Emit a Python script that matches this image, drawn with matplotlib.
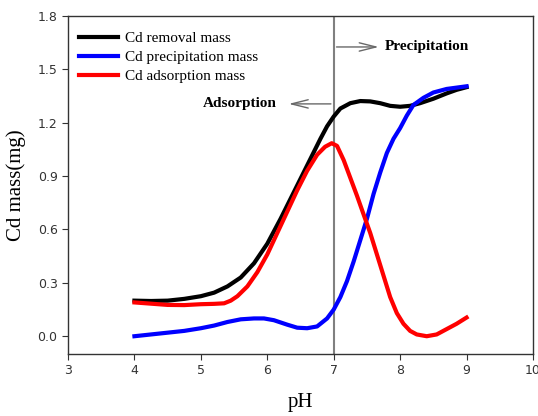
import matplotlib
matplotlib.use("Agg")
import matplotlib.pyplot as plt

# pH values and Cd masses (mg)
ph_removal = [4.0, 4.25, 4.5, 4.75, 5.0, 5.2, 5.4, 5.6, 5.8, 6.0, 6.2, 6.4, 6.6, 6.8, 6.9, 7.0,
              7.1, 7.25, 7.4, 7.55, 7.7, 7.85, 8.0, 8.15, 8.3, 8.5, 8.7, 8.85, 9.0]
removal = [0.20, 0.198, 0.20, 0.21, 0.225, 0.245, 0.28, 0.33, 0.41, 0.52, 0.66, 0.81, 0.96, 1.11, 1.18, 1.235,
           1.28, 1.31, 1.322, 1.32, 1.31, 1.295, 1.29, 1.295, 1.31, 1.335, 1.365, 1.385, 1.40]

ph_precip = [4.0, 4.25, 4.5, 4.75, 5.0, 5.2, 5.4, 5.6, 5.8, 5.95, 6.1, 6.3, 6.45, 6.6, 6.75, 6.9, 7.0,
             7.1, 7.2, 7.3, 7.4, 7.5, 7.6, 7.7, 7.8, 7.9, 8.0, 8.1, 8.2, 8.35, 8.5, 8.7, 9.0]
precip = [0.0, 0.01, 0.02, 0.03, 0.045, 0.06, 0.08, 0.095, 0.10, 0.10, 0.09, 0.065, 0.048, 0.045, 0.055, 0.10, 0.15,
          0.22, 0.31, 0.42, 0.54, 0.66, 0.80, 0.92, 1.03, 1.11, 1.17, 1.24, 1.30, 1.34, 1.37, 1.39, 1.405]

ph_adsorb = [4.0, 4.25, 4.5, 4.75, 5.0, 5.2, 5.35, 5.45, 5.55, 5.7, 5.85, 6.0, 6.15, 6.3, 6.45, 6.6, 6.75,
             6.87, 6.97, 7.05, 7.15, 7.25, 7.35, 7.44, 7.55, 7.65, 7.75, 7.85, 7.95, 8.05, 8.15, 8.25,
             8.4, 8.55, 8.7, 8.85, 9.0]
adsorb = [0.19, 0.183, 0.176, 0.175, 0.18, 0.182, 0.185, 0.20, 0.225, 0.28, 0.36, 0.46, 0.58, 0.70, 0.82, 0.93, 1.02,
          1.065, 1.085, 1.07, 0.99, 0.89, 0.79, 0.695, 0.58, 0.46, 0.34, 0.22, 0.13, 0.07, 0.03, 0.01,
          0.0, 0.01, 0.04, 0.07, 0.105]

xticks = [3, 4, 5, 6, 7, 8, 9, 10]
yticks = [0.0, 0.3, 0.6, 0.9, 1.2, 1.5, 1.8]

fig = plt.figure(figsize=(5.38, 4.16), dpi=100)
ax = fig.add_axes([0.1264, 0.149, 0.8643, 0.8125])

ax.plot(ph_removal, removal, color="black", lw=3, label="Cd removal mass")
ax.plot(ph_precip, precip, color="blue", lw=3, label="Cd precipitation mass")
ax.plot(ph_adsorb, adsorb, color="red", lw=3, label="Cd adsorption mass")

ax.axvline(7, color="gray", lw=1.5, zorder=0)

arrow = dict(arrowstyle="->,head_length=1.2,head_width=0.3", color="dimgray", lw=1)
ax.annotate("", xy=(7.72, 1.626), xytext=(7.0, 1.626), arrowprops=arrow)
ax.text(7.77, 1.626, "Precipitation", family="Liberation Serif", weight="bold",
        fontsize=11, va="center", ha="left")
ax.annotate("", xy=(6.28, 1.306), xytext=(7.0, 1.306), arrowprops=arrow)
ax.text(6.14, 1.306, "Adsorption", family="Liberation Serif", weight="bold",
        fontsize=11, va="center", ha="right")

ax.set_xlim(3, 10)
ax.set_ylim(-0.1, 1.8)
ax.set_xticks(xticks)
ax.set_yticks(yticks)
ax.set_yticklabels([f"{v:.1f}" for v in yticks])
ax.tick_params(labelsize=9, colors="#333333", length=4, top=False, right=False)
for s in ax.spines.values():
    s.set_linewidth(1)
    s.set_color("#333333")

ax.set_xlabel("pH", family="Liberation Serif", fontsize=15, labelpad=11)
ax.set_ylabel("Cd mass(mg)", family="Liberation Serif", fontsize=15, labelpad=8)

ax.legend(loc="upper left", frameon=False, prop={"family": "Liberation Serif", "size": 11},
          handlelength=2.5, handletextpad=0.5, labelspacing=0.35,
          bbox_to_anchor=(-0.005, 0.995))

fig.savefig("out.png", dpi=100)
